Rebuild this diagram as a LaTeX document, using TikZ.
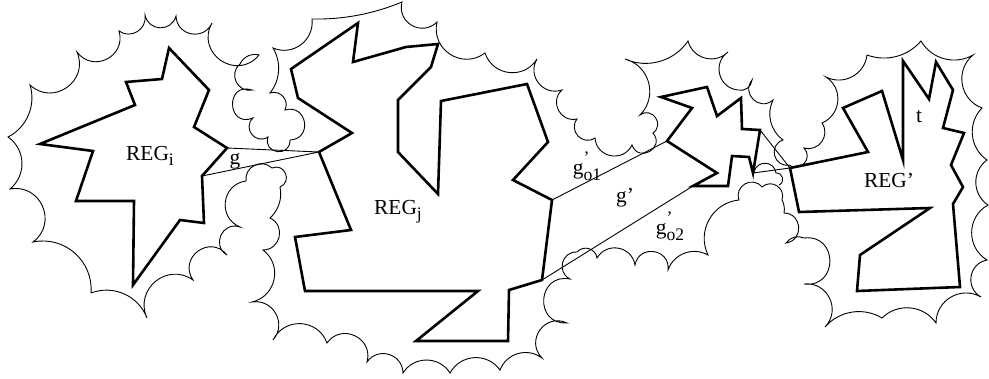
\documentclass[tikz,border=0pt]{standalone}
\usepackage{amsmath}
\usepackage{fontspec}
\setmainfont{Liberation Serif}
\newcommand{\lowsub}[1]{\raisebox{-0.55ex}{\fontsize{8.8}{10}\selectfont #1}}
\newcommand{\primesub}[1]{\rlap{\raisebox{1.15ex}{\fontsize{8.8}{10}\selectfont ’}}\lowsub{#1}}
\tikzset{
  region/.style={line width=1.3pt,line join=miter},
  cloud/.style={line width=0.45pt},
  gate/.style={line width=0.45pt},
  % circular-looking bulge to the left of the direction of travel
  bow/.code={\pgfmathsetmacro\bowloose{(2/3)*tan(#1/2)/sin(#1)/0.3915}%
    \pgfkeysalso{bend left=#1,looseness/.expanded=\bowloose}},
}
\begin{document}
\begin{tikzpicture}[x=0.5pt,y=-0.5pt,
  every node/.style={font=\fontsize{10.7}{13}\selectfont,inner sep=1pt}]
\useasboundingbox (0,0) rectangle (989,379);

\coordinate (ia) at (227,148);
\coordinate (ib) at (202,176);
\coordinate (ja) at (319,152);
\coordinate (jb) at (552,200);
\coordinate (jc) at (542,280);
\coordinate (ma) at (667,141);
\coordinate (mb) at (693,186);
\coordinate (mc) at (760,130);
\coordinate (md) at (753,173);
\coordinate (pa) at (790,168);

% regions
\draw[region] (169,48)--(162,79)--(126,82)--(135,105)--(40,144)--(93,151)
  --(76,201)--(134,201)--(133,285)--(180,220)--(204,223)--(ib)--(ia)
  --(194,127)--(209,90)--cycle;
\draw[region] (358,23)--(353,62)--(406,47)--(438,44)--(431,67)--(398,100)
  --(398,152)--(438,194)--(441,101)--(527,84)--(548,142)--(513,180)--(jb)
  --(jc)--(509,290)--(508,341)--(416,341)--(478,291)--(305,291)--(295,237)
  --(351,230)--(ja)--(352,133)--(298,98)--(291,69)--cycle;
\draw[region] (661,97)--(692,108)--(ma)--(717,173)--(mb)--(728,186)
  --(732,156)--(749,157)--(md)--(mc)--(742,129)--(741,98)--(717,116)
  --(707,87)--cycle;
\draw[region] (pa)--(868,152)--(843,108)--(882,91)--(903,160)--(903,61)
  --(929,99)--(936,62)--(953,90)--(943,128)--(964,133)--(951,165)
  --(963,187)--(953,204)--(960,287)--(857,291)--(860,255)--(930,208)
  --(799,212)--cycle;

% gates
\draw[gate] (ia)--(ja) (ib)--(ja);
\draw[gate] (jb)--(ma) (jc)--(mb);
\draw[gate] (mc)--(pa) (md)--(pa);

% scalloped cover
\draw[cloud] (212,23) to[bow=77] (176,16) to[bow=77] (145,15) to[bow=67] (119,31)
  to[bow=80] (77,52) to[bow=78] (30,85) to[bow=40] (8,137) to[bow=53] (10,189)
  to[bow=77] (33,242) to[bow=53] (91,293) to[bow=45] (147,318)
  to[bow=75] (193,280) to[bow=88] (227,255) to[bow=84] (240,227)
  to[bow=75] (246,181) to[bow=70] (272,168) to[bow=90] (280,187)
  to[bow=30] (270,218) to[bow=77] (263,250) to[bow=65] (252,302)
  to[bow=70] (273,340) to[bow=67] (327,343) to[bow=80] (367,362)
  to[bow=72] (403,373) to[bow=58] (450,373) to[bow=58] (500,370)
  to[bow=53] (542,358) to[bow=80] (567,323) to[bow=97] (570,279)
  to[bow=78] (577,252) to[bow=65] (597,258) to[bow=70] (635,265)
  to[bow=88] (668,270) to[bow=50] (708,255) to[bow=55] (739,200)
  to[bow=80] (762,187) to[bow=75] (782,200) to[bow=20] (784,213)
  to[bow=85] (786,243) to[bow=40] (804,238) to[bow=97] (804,284)
  to[bow=70] (825,327) to[bow=40] (882,318) to[bow=50] (936,323)
  to[bow=60] (981,297) to[bow=70] (987,260) to[bow=60] (988,205)
  to[bow=55] (987,160) to[bow=50] (982,108) to[bow=60] (973,55)
  to[bow=45] (921,41) to[bow=35] (867,55) to[bow=55] (826,77)
  to[bow=62] (822,123) to[bow=70] (804,148) to[bow=85] (789,165)
  to[bow=85] (783,140) to[bow=40] (773,100) to[bow=85] (752,80)
  to[bow=50] (738,90) to[bow=70] (728,52) to[bow=60] (688,41)
  to[bow=40] (625,59) to[bow=60] (640,115) to[bow=90] (653,133)
  to[bow=100] (632,145) to[bow=75] (595,138) to[bow=80] (577,119)
  to[bow=75] (562,90) to[bow=70] (537,59) to[bow=65] (485,53)
  to[bow=70] (437,22) to[bow=75] (402,2) to[bow=12] (312,19)
  to[bow=60] (273,48) to[bow=35] (270,93) to[bow=67] (285,110)
  to[bow=97] (290,140) to[bow=100] (268,137) to[bow=85] (253,118)
  to[bow=110] (252,90) to[bow=75] (240,64) to[bow=40] (259,55)
  to[bow=85] (212,23);
\draw[cloud] (754,172) to[bow=80] (776,173) to[bow=80] (779,185);

% labels
\node (regi) at (150,156) {REG\lowsub{i}};
\node (lblg) at (235,161) {g};
\node (regj) at (398,212) {REG\lowsub{j}};
\node (lblgo1) at (587,166) {g\primesub{o1}};
\node (lblgp) at (625,198) {g’};
\node (lblgo2) at (670,226) {g\primesub{o2}};
\node (regp) at (889,180) {REG’};
\node (lblt) at (919,117) {t};
\end{tikzpicture}
\end{document}
